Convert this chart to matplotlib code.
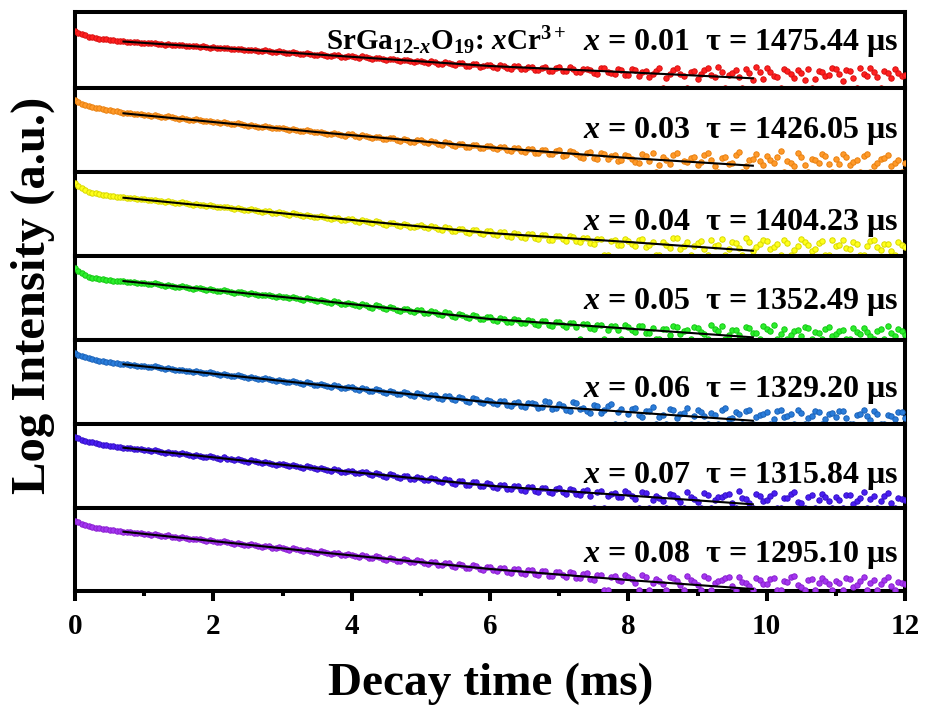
import matplotlib
matplotlib.use("Agg")

import matplotlib.pyplot as plt
import numpy as np
from matplotlib.ticker import MultipleLocator

plt.rcParams.update({
    "font.family": "Liberation Serif",
    "font.weight": "bold",
    "mathtext.fontset": "custom",
    "mathtext.rm": "Liberation Serif:bold",
    "mathtext.it": "Liberation Serif:italic:bold",
    "mathtext.bf": "Liberation Serif:bold",
    "axes.linewidth": 2.9,
})

# decay time grid (ms): samples on the 0.1 ms grid and the in-between ones
TIME_A = np.linspace(0, 12, 121)
TIME_B = np.linspace(0.05, 11.95, 120)

# log intensity, in % of each panel height
RED_A = [
    74.7, 70.6, 67.4, 65.6, 64.1, 62.9, 62.2, 61.1, 60.6, 59.9,
    59.4, 58.4, 58.2, 57.0, 56.9, 56.0, 55.4, 55.1, 54.0, 53.9,
    53.3, 52.2, 52.1, 50.8, 50.9, 49.6, 49.5, 48.5, 48.4, 47.2,
    47.3, 45.9, 46.0, 44.5, 44.6, 43.3, 43.5, 41.8, 42.6, 40.7,
    41.5, 39.6, 40.1, 38.2, 39.0, 36.8, 37.9, 35.4, 36.9, 34.6,
    35.7, 33.2, 34.6, 31.5, 33.4, 30.2, 32.3, 29.1, 31.0, 28.3,
    29.9, 26.8, 29.2, 25.4, 28.3, 24.6, 27.8, 23.9, 27.4, 22.5,
    26.9, 22.3, 25.5, 20.4, 24.8, 19.6, 25.9, 21.2, 18.4, 23.6,
    17.2, 24.1, 20.5, 13.9, 22.8, 0.5, 18.3, 25.7, 15.2, 21.6,
    12.1, 23.9, 17.5, 27.0, 0.5, 19.8, 14.3, 24.6, 10.9, 21.2,
    26.1, 16.2, 0.6, 22.5, 13.0, 19.4, 25.3, 11.4, 20.7, 17.3,
    24.4, 9.8, 21.9, 0.5, 18.6, 26.5, 14.7, 22.3, 12.6, 19.5,
    16.8,
]
RED_B = [
    72.3, 68.9, 66.4, 64.8, 63.6, 62.5, 61.5, 60.9, 60.2, 59.6,
    58.7, 58.9, 57.5, 57.6, 56.2, 55.9, 55.7, 54.4, 54.6, 53.0,
    52.6, 52.9, 51.2, 51.5, 50.1, 50.3, 48.9, 49.2, 47.6, 47.9,
    46.2, 47.0, 44.9, 45.6, 43.8, 44.4, 42.5, 43.2, 41.1, 41.9,
    40.3, 41.3, 38.9, 39.8, 37.4, 38.6, 36.1, 37.0, 34.9, 35.9,
    33.9, 35.8, 32.1, 34.2, 31.0, 32.7, 29.4, 31.8, 28.0, 30.6,
    27.5, 30.3, 26.1, 28.9, 24.8, 27.9, 23.6, 26.7, 22.9, 25.8,
    21.8, 27.2, 20.7, 24.3, 23.0, 18.9, 26.1, 19.8, 24.9, 17.6,
    25.3, 15.4, 21.9, 19.0, 26.4, 13.2, 23.5, 17.7, 0.5, 22.8,
    18.9, 25.7, 14.0, 21.5, 16.8, 24.2, 0.6, 20.1, 27.3, 12.4,
    20.8, 14.9, 25.1, 18.0, 23.7, 10.6, 0.5, 22.4, 15.8, 26.0,
    18.1, 23.3, 13.6, 26.8, 16.0, 21.1, 0.5, 19.9, 24.7, 15.1,
]
ORANGE_A = [
    85.7, 81.3, 78.6, 76.4, 75.1, 73.5, 72.5, 70.8, 70.0, 69.0,
    68.3, 67.0, 66.9, 65.1, 65.0, 63.5, 63.3, 61.6, 61.8, 60.2,
    60.0, 58.6, 58.4, 56.7, 57.0, 55.1, 55.2, 53.3, 53.6, 51.8,
    52.0, 50.2, 50.6, 48.3, 48.9, 47.1, 47.0, 44.9, 45.4, 43.3,
    44.7, 42.0, 43.1, 40.2, 41.5, 38.8, 39.9, 36.9, 38.6, 35.4,
    37.9, 34.8, 36.0, 32.5, 34.9, 31.2, 33.4, 29.5, 32.3, 28.1,
    31.0, 27.2, 29.6, 25.4, 28.9, 23.9, 27.3, 22.1, 26.5, 21.0,
    25.7, 19.8, 24.2, 17.6, 23.1, 16.3, 22.8, 15.1, 20.4, 14.2,
    19.6, 11.8, 21.3, 13.4, 0.6, 17.9, 9.6, 22.5, 12.7, 16.4,
    8.9, 20.1, 14.8, 0.5, 18.2, 11.3, 23.4, 7.6, 15.9, 13.1,
    19.4, 10.2, 24.6, 12.9, 6.8, 17.5, 0.5, 14.6, 21.8, 9.4,
    15.7, 20.9, 8.1, 13.8, 18.6, 0.6, 11.2, 16.9, 7.3, 14.4,
    10.5,
]
ORANGE_B = [
    83.2, 79.8, 77.4, 75.7, 74.3, 73.0, 71.6, 70.4, 69.4, 68.6,
    67.5, 67.8, 66.0, 66.2, 64.3, 64.5, 62.4, 62.8, 60.8, 61.0,
    59.0, 59.5, 57.4, 57.9, 55.8, 56.3, 54.1, 54.6, 52.4, 52.9,
    50.8, 51.5, 49.0, 49.8, 47.5, 48.1, 45.6, 46.4, 44.0, 44.8,
    42.9, 44.0, 41.2, 42.1, 39.3, 40.6, 37.8, 39.1, 36.3, 37.6,
    35.6, 37.2, 33.5, 35.3, 31.7, 33.9, 30.3, 32.4, 28.8, 31.1,
    28.4, 30.2, 26.1, 28.5, 24.7, 27.8, 22.9, 26.0, 21.6, 24.9,
    18.5, 24.8, 21.2, 16.9, 23.9, 15.2, 21.7, 18.8, 13.6, 20.6,
    15.3, 10.7, 18.6, 22.8, 8.4, 14.1, 20.2, 0.5, 11.8, 17.3,
    12.4, 22.1, 6.9, 16.6, 9.5, 19.8, 0.6, 14.2, 21.5, 8.6,
    13.7, 18.4, 0.5, 11.1, 22.7, 7.9, 16.0, 10.6, 19.2, 0.5,
    9.9, 17.8, 12.5, 0.6, 21.4, 7.1, 15.3, 19.7, 10.8, 0.5,
]
YELLOW_A = [
    86.5, 80.7, 76.3, 74.6, 72.8, 71.8, 70.4, 69.7, 68.7, 68.0,
    67.3, 66.0, 65.7, 64.2, 63.9, 62.6, 62.3, 60.7, 60.9, 59.4,
    59.2, 57.6, 57.7, 55.8, 56.1, 54.2, 54.5, 52.5, 52.8, 50.9,
    51.0, 49.1, 49.5, 47.2, 47.9, 45.8, 46.2, 43.6, 44.5, 42.1,
    43.4, 40.6, 41.9, 38.8, 40.3, 37.0, 38.4, 35.3, 37.1, 33.8,
    36.0, 32.4, 34.1, 30.6, 33.2, 28.9, 31.5, 27.1, 30.3, 25.8,
    28.8, 24.5, 27.6, 22.4, 26.3, 21.1, 25.7, 19.8, 24.0, 18.9,
    23.4, 17.6, 22.1, 15.9, 21.5, 14.2, 19.8, 0.6, 18.7, 13.1,
    17.5, 10.8, 19.9, 12.2, 0.5, 15.6, 8.7, 21.3, 11.4, 0.5,
    14.9, 7.9, 18.8, 12.8, 0.6, 16.3, 9.1, 20.7, 5.8, 13.6,
    17.8, 10.4, 0.5, 15.2, 6.9, 19.6, 12.1, 8.3, 16.8, 0.5,
    11.7, 18.5, 7.2, 14.3, 0.6, 17.1, 9.8, 13.2, 5.9, 15.8,
    10.7,
]
YELLOW_B = [
    83.3, 78.3, 75.4, 73.7, 72.3, 71.0, 70.0, 69.1, 68.3, 67.6,
    66.5, 66.8, 64.9, 65.1, 63.2, 63.5, 61.4, 61.8, 59.9, 60.2,
    58.2, 58.6, 56.6, 57.0, 54.8, 55.3, 53.1, 53.6, 51.4, 51.9,
    49.8, 50.6, 48.1, 48.8, 46.4, 47.1, 44.7, 45.5, 42.9, 43.8,
    41.5, 42.8, 39.6, 41.0, 37.8, 39.3, 36.0, 37.5, 34.5, 35.9,
    33.7, 35.2, 31.5, 33.6, 29.8, 32.1, 28.2, 30.7, 26.5, 29.4,
    25.6, 28.0, 23.2, 26.9, 21.9, 25.3, 20.4, 24.6, 18.7, 22.8,
    19.2, 23.0, 16.8, 21.0, 14.9, 20.3, 0.5, 17.4, 12.6, 19.5,
    14.0, 18.8, 9.6, 16.7, 0.6, 13.1, 20.4, 7.5, 15.9, 11.2,
    17.3, 0.5, 11.0, 19.4, 8.2, 14.7, 0.5, 16.5, 10.1, 18.6,
    7.3, 13.9, 18.0, 0.6, 11.6, 16.4, 5.5, 14.8, 0.5, 19.1,
    12.9, 8.5, 16.2, 0.5, 10.8, 18.9, 6.7, 14.0, 0.6, 12.1,
]
GREEN_A = [
    84.8, 78.7, 74.6, 73.1, 71.6, 70.7, 69.9, 69.2, 68.5, 67.6,
    67.3, 65.9, 65.7, 64.0, 63.9, 62.3, 62.4, 60.6, 60.9, 59.5,
    59.3, 57.7, 57.8, 55.9, 56.2, 54.3, 54.5, 52.6, 52.9, 51.2,
    51.2, 49.4, 49.6, 47.4, 47.8, 45.9, 46.0, 43.5, 44.2, 42.0,
    42.8, 40.0, 41.1, 38.1, 39.5, 36.2, 37.6, 34.4, 36.1, 32.9,
    34.6, 31.1, 32.8, 29.2, 31.4, 27.3, 29.7, 25.5, 28.2, 24.0,
    26.3, 22.1, 24.9, 20.6, 23.8, 19.1, 22.6, 17.5, 21.9, 16.4,
    20.8, 15.1, 19.6, 0.5, 18.3, 12.9, 17.4, 11.6, 16.2, 0.6,
    14.8, 9.4, 16.6, 7.2, 0.5, 12.5, 5.9, 15.3, 10.1, 0.5,
    13.7, 6.4, 17.2, 9.8, 0.6, 11.9, 4.8, 14.6, 8.2, 0.5,
    12.4, 16.8, 7.0, 0.5, 10.6, 4.2, 13.9, 9.1, 0.6, 15.4,
    6.3, 11.8, 0.5, 8.7, 14.2, 3.9, 10.3, 0.5, 7.6, 12.7,
    5.2,
]
GREEN_B = [
    81.4, 76.4, 73.8, 72.3, 71.1, 70.1, 69.5, 68.8, 68.1, 67.2,
    66.4, 66.8, 64.7, 65.0, 63.0, 63.3, 61.3, 61.7, 59.7, 60.1,
    58.3, 58.7, 56.6, 57.1, 54.8, 55.3, 53.0, 53.5, 51.3, 51.8,
    50.1, 50.9, 48.3, 49.0, 46.6, 47.1, 44.6, 45.4, 42.6, 43.5,
    41.0, 42.4, 39.1, 40.5, 37.0, 38.6, 35.1, 36.8, 33.4, 35.0,
    32.1, 33.9, 30.0, 32.2, 28.2, 30.5, 26.4, 28.9, 24.7, 27.1,
    23.1, 25.7, 21.4, 24.2, 19.8, 23.0, 18.2, 21.6, 16.9, 20.4,
    17.0, 20.1, 14.6, 18.9, 13.4, 17.5, 0.6, 15.6, 11.9, 16.9,
    11.5, 15.9, 8.3, 13.8, 0.5, 12.0, 16.2, 6.6, 11.3, 14.4,
    9.0, 0.5, 12.6, 15.8, 5.6, 10.9, 0.6, 13.3, 7.4, 16.1,
    9.7, 0.5, 13.1, 5.8, 11.4, 15.0, 0.5, 8.0, 12.9, 3.6,
    10.5, 0.6, 13.4, 6.1, 9.2, 0.5, 12.0, 15.6, 4.7, 9.9,
]
BLUE_A = [
    84.4, 80.3, 77.6, 75.9, 74.3, 73.2, 71.9, 71.0, 70.1, 69.0,
    68.6, 67.3, 67.0, 65.3, 65.0, 63.6, 63.2, 61.6, 61.7, 60.1,
    60.0, 58.3, 58.2, 56.4, 56.6, 54.7, 54.9, 52.8, 53.1, 51.2,
    51.4, 49.5, 49.9, 47.6, 48.3, 45.8, 46.4, 43.9, 44.7, 42.4,
    43.3, 40.5, 41.8, 38.7, 40.4, 36.7, 38.3, 35.1, 37.0, 33.5,
    35.4, 31.9, 33.8, 30.0, 32.6, 28.1, 30.9, 26.3, 29.8, 25.1,
    27.7, 23.2, 26.9, 21.4, 25.9, 20.3, 24.8, 19.2, 27.3, 17.6,
    23.5, 16.4, 26.2, 18.1, 14.9, 22.7, 13.1, 20.9, 0.5, 17.4,
    12.3, 19.5, 8.6, 15.8, 0.6, 11.1, 17.6, 6.9, 13.5, 0.5,
    16.2, 9.3, 13.0, 0.5, 18.4, 7.5, 11.8, 15.1, 0.6, 10.2,
    14.4, 5.6, 17.1, 9.9, 0.5, 12.6, 7.1, 15.7, 0.5, 11.3,
    8.2, 14.9, 0.6, 10.8, 16.4, 5.1, 12.2, 0.5, 9.4, 13.7,
    6.8,
]
BLUE_B = [
    82.1, 78.9, 76.7, 75.1, 73.8, 72.5, 71.5, 70.6, 69.6, 68.7,
    67.8, 68.1, 66.1, 66.3, 64.3, 64.5, 62.4, 62.7, 60.7, 61.0,
    59.0, 59.4, 57.3, 57.8, 55.6, 56.1, 53.8, 54.3, 51.9, 52.5,
    50.2, 51.0, 48.5, 49.2, 46.7, 47.5, 44.8, 45.7, 42.8, 43.9,
    41.4, 42.8, 39.4, 41.2, 37.6, 39.4, 35.8, 37.9, 34.2, 36.2,
    33.0, 34.7, 31.0, 33.2, 29.2, 31.8, 27.4, 30.3, 25.9, 28.6,
    24.6, 26.8, 22.5, 25.4, 21.0, 24.3, 23.1, 19.9, 25.8, 18.4,
    21.6, 15.9, 24.4, 19.3, 12.6, 21.8, 16.6, 23.9, 14.1, 0.5,
    18.2, 10.4, 14.9, 20.6, 7.8, 0.5, 16.3, 12.1, 19.0, 9.4,
    14.7, 0.6, 11.2, 17.1, 6.2, 13.8, 0.5, 16.9, 8.8, 12.4,
    0.5, 15.4, 8.4, 11.9, 16.6, 0.6, 9.8, 14.2, 6.4, 12.8,
    15.9, 7.6, 0.5, 12.3, 9.1, 15.0, 0.5, 11.0, 6.0, 14.3,
]
INDIGO_A = [
    84.9, 81.5, 79.1, 77.0, 75.6, 74.0, 73.0, 71.8, 71.1, 70.0,
    69.4, 68.0, 67.7, 66.0, 65.8, 64.2, 63.9, 62.3, 62.4, 60.9,
    60.6, 58.9, 58.8, 57.0, 57.2, 55.3, 55.4, 53.4, 53.9, 51.8,
    51.9, 50.0, 50.3, 48.0, 48.6, 46.4, 46.9, 44.3, 45.2, 42.8,
    43.8, 41.1, 42.3, 39.4, 40.7, 37.5, 39.0, 35.7, 37.8, 34.4,
    36.0, 32.8, 34.5, 30.8, 33.4, 29.0, 31.6, 27.2, 30.4, 25.8,
    28.4, 24.0, 27.5, 22.1, 26.7, 20.6, 25.1, 19.3, 24.2, 18.2,
    23.6, 16.9, 22.0, 15.4, 21.3, 0.5, 19.7, 13.8, 18.4, 12.6,
    17.9, 10.5, 19.3, 0.5, 14.6, 8.8, 16.7, 11.9, 0.6, 13.4,
    7.7, 18.2, 0.5, 12.8, 15.9, 6.4, 20.1, 10.6, 0.5, 14.1,
    9.2, 17.3, 0.6, 11.5, 19.0, 5.7, 13.6, 0.5, 16.2, 8.9,
    12.7, 0.5, 15.4, 7.8, 18.6, 10.3, 0.5, 13.9, 6.1, 11.6,
    9.0,
]
INDIGO_B = [
    83.0, 80.2, 78.0, 76.3, 74.8, 73.5, 72.4, 71.5, 70.5, 69.7,
    68.6, 69.0, 66.8, 67.1, 65.0, 65.4, 63.1, 63.5, 61.3, 61.7,
    59.7, 60.2, 57.9, 58.4, 56.1, 56.7, 54.3, 54.9, 52.4, 53.0,
    50.7, 51.5, 48.9, 49.7, 47.3, 48.0, 45.5, 46.2, 43.4, 44.4,
    42.0, 43.3, 40.0, 41.7, 38.2, 40.0, 36.4, 38.5, 34.9, 36.8,
    33.7, 35.4, 31.6, 34.0, 29.8, 32.5, 28.0, 31.0, 26.4, 29.3,
    25.2, 27.6, 23.0, 26.1, 21.5, 25.3, 20.0, 23.8, 18.9, 22.7,
    19.5, 22.8, 16.2, 20.6, 14.3, 18.9, 0.5, 17.1, 13.2, 19.8,
    14.4, 0.6, 17.5, 9.9, 12.3, 0.5, 15.2, 7.4, 18.6, 11.0,
    0.5, 15.5, 9.4, 13.0, 17.2, 0.6, 11.9, 5.9, 16.3, 8.1,
    14.6, 0.5, 12.2, 16.9, 7.0, 0.5, 15.8, 10.0, 13.1, 0.6,
    9.6, 16.0, 4.9, 12.4, 0.5, 14.7, 8.5, 17.3, 0.5, 10.9,
]
PURPLE_A = [
    84.6, 81.1, 78.1, 76.1, 74.8, 73.3, 72.4, 71.2, 70.5, 69.6,
    68.9, 67.5, 67.3, 65.6, 65.4, 63.8, 63.5, 61.9, 62.0, 60.5,
    60.3, 58.6, 58.5, 56.7, 56.9, 55.0, 55.2, 53.2, 53.6, 51.6,
    51.6, 49.7, 50.0, 47.7, 48.4, 46.0, 46.7, 44.0, 45.0, 42.6,
    43.5, 40.7, 42.0, 39.0, 40.5, 37.2, 38.8, 35.4, 37.5, 34.0,
    35.7, 32.5, 34.2, 30.4, 33.1, 28.7, 31.3, 26.8, 30.1, 25.4,
    28.0, 23.7, 27.2, 21.8, 26.4, 20.2, 24.9, 18.7, 23.6, 17.4,
    22.8, 16.1, 21.5, 14.6, 20.7, 13.2, 19.4, 0.5, 18.1, 11.7,
    16.8, 9.7, 18.5, 0.5, 13.6, 7.9, 15.9, 11.0, 0.6, 12.4,
    6.8, 17.2, 0.5, 11.7, 14.8, 5.5, 16.1, 9.6, 0.5, 13.0,
    8.1, 15.6, 0.6, 10.4, 17.9, 4.7, 12.5, 0.5, 14.6, 7.8,
    11.5, 0.5, 14.1, 6.9, 16.7, 9.2, 0.5, 12.8, 5.3, 10.6,
    8.2,
]
PURPLE_B = [
    82.7, 79.7, 77.0, 75.4, 74.0, 72.8, 71.8, 70.9, 70.0, 69.2,
    68.1, 68.5, 66.4, 66.7, 64.5, 64.9, 62.6, 63.0, 60.9, 61.3,
    59.3, 59.8, 57.5, 58.0, 55.6, 56.2, 53.8, 54.4, 51.9, 52.6,
    50.4, 51.2, 48.6, 49.4, 46.9, 47.6, 44.9, 45.9, 43.0, 44.1,
    41.6, 42.9, 39.7, 41.3, 37.9, 39.6, 36.1, 38.2, 34.6, 36.5,
    33.3, 35.0, 31.3, 33.6, 29.5, 32.0, 27.7, 30.6, 26.1, 28.9,
    24.9, 27.3, 22.7, 25.8, 21.0, 24.6, 19.5, 23.1, 18.2, 21.9,
    18.7, 21.9, 15.6, 20.1, 13.8, 18.4, 0.5, 16.6, 12.4, 19.3,
    13.9, 0.6, 16.9, 9.1, 11.8, 0.5, 14.6, 6.7, 17.8, 10.2,
    0.5, 14.9, 8.6, 12.3, 16.4, 0.5, 10.8, 5.0, 15.2, 7.4,
    13.5, 0.6, 11.0, 15.8, 6.2, 0.5, 14.3, 9.2, 12.1, 0.5,
    8.8, 14.6, 4.1, 11.5, 0.5, 13.2, 7.7, 16.0, 0.5, 9.7,
]

# single-exponential fit curves (black lines)
FIT_T = [0.7, 3.5, 6.0, 8.0, 9.8]
FIT_RED = [60.9, 43.9, 28.8, 20.6, 12.7]
FIT_ORANGE = [69.9, 47.5, 29.3, 16.7, 7.5]
FIT_YELLOW = [69.2, 46.5, 26.9, 16.2, 5.7]
FIT_GREEN = [69.6, 46.5, 24.4, 13.0, 2.6]
FIT_BLUE = [70.7, 46.6, 25.6, 14.2, 3.9]
FIT_INDIGO = [71.8, 47.1, 26.5, 14.9, 4.4]
FIT_PURPLE = [71.3, 46.7, 26.1, 12.7, 1.8]

X_VALUES = ["0.01", "0.03", "0.04", "0.05", "0.06", "0.07", "0.08"]
TAU_US = ["1475.44", "1426.05", "1404.23", "1352.49", "1329.20", "1315.84", "1295.10"]

SERIES_A = [RED_A, ORANGE_A, YELLOW_A, GREEN_A, BLUE_A, INDIGO_A, PURPLE_A]
SERIES_B = [RED_B, ORANGE_B, YELLOW_B, GREEN_B, BLUE_B, INDIGO_B, PURPLE_B]
FITS = [FIT_RED, FIT_ORANGE, FIT_YELLOW, FIT_GREEN, FIT_BLUE, FIT_INDIGO, FIT_PURPLE]

FACE = ["#ff2020", "#ff9a2a", "#ffff1a", "#2bef2b", "#2a7ddb", "#4a1ef2", "#a436f0"]
EDGE = ["#d81010", "#e8800f", "#d8d800", "#14c814", "#1a62b8", "#3410c8", "#8a1ed0"]

PANEL_H = [76.3, 84, 83.5, 84, 84.5, 84, 82.5]
LABEL_Y = [0.50, 0.40, 0.305, 0.36, 0.32, 0.30, 0.35]


def main():
    fig = plt.figure(figsize=(9.25, 7.09), dpi=100)
    gs = fig.add_gridspec(
        7, 1, height_ratios=PANEL_H, hspace=0,
        left=0.0811, right=0.9784, top=0.9835, bottom=0.1671,
    )

    n = len(SERIES_A)
    for i in range(n):
        ax = fig.add_subplot(gs[i])
        t = np.concatenate([TIME_A, TIME_B])
        y = np.concatenate([SERIES_A[i], SERIES_B[i]])
        order = np.argsort(t)
        ax.plot(t[order], y[order], ls="none", marker="o", ms=3.9,
                mfc=FACE[i], mec=EDGE[i], mew=0.7, zorder=3)
        ax.plot(FIT_T, FITS[i], color="black", lw=1.5, zorder=4)

        ax.set_xlim(0, 12)
        ax.set_ylim(0, 100)
        ax.set_yticks([])

        ax.text(0.9916, LABEL_Y[i],
                f"$x$ = {X_VALUES[i]}  τ = {TAU_US[i]} μs",
                transform=ax.transAxes, ha="right", va="baseline",
                fontsize=23, fontweight="bold")

        if i == 0:
            ax.text(0.592, LABEL_Y[i],
                    r"SrGa$_{\text{12-}x}$O$_{19}$: $x$Cr$^{3+}$",
                    transform=ax.transAxes, ha="right", va="baseline",
                    fontsize=21, fontweight="bold")

        if i < n - 1:
            ax.set_xticks([])
        else:
            ax.xaxis.set_major_locator(MultipleLocator(2))
            ax.xaxis.set_minor_locator(MultipleLocator(1))
            ax.tick_params(axis="x", which="major", direction="out",
                           length=7, width=2.9, labelsize=21, pad=9)
            ax.tick_params(axis="x", which="minor", direction="out",
                           length=3.5, width=2.9)
            for lab in ax.get_xticklabels():
                lab.set_fontweight("bold")

    fig.text(0.036, 0.584, "Log Intensity (a.u.)", rotation=90,
             ha="center", va="center", fontsize=35, fontweight="bold")
    fig.text(0.53, 0.0197, "Decay time (ms)", ha="center", va="baseline",
             fontsize=34, fontweight="bold")

    fig.savefig("out.png", dpi=100)
    plt.close(fig)


if __name__ == "__main__":
    main()
